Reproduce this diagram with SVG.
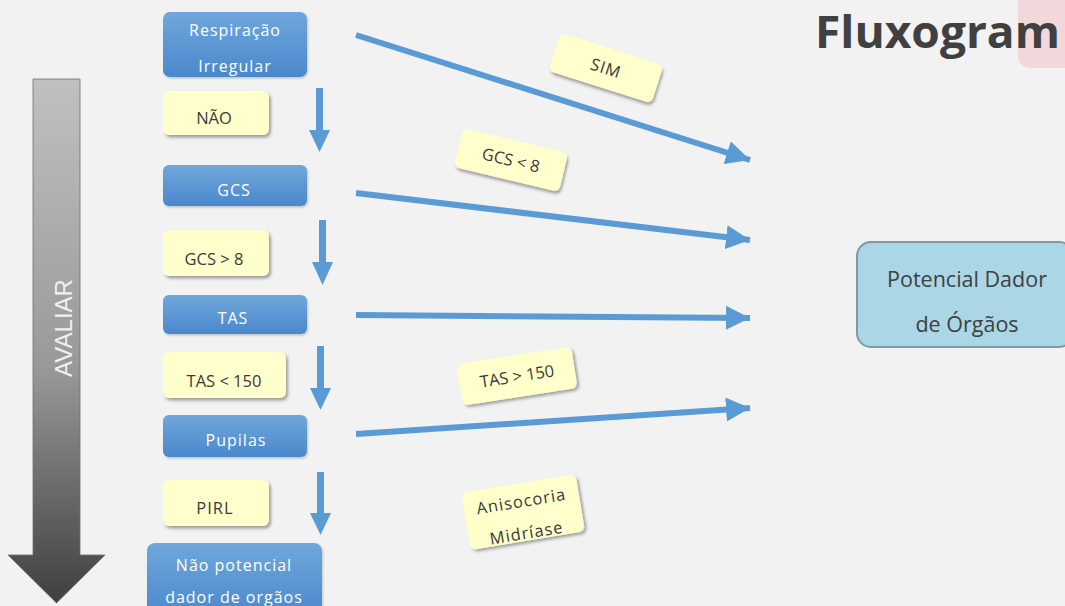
<svg xmlns="http://www.w3.org/2000/svg" width="1065" height="606" viewBox="0 0 1065 606">
  <defs>
    <linearGradient id="gradBlue" x1="0" y1="0" x2="0" y2="1">
      <stop offset="0" stop-color="#70a7dc"/>
      <stop offset="1" stop-color="#4a88cc"/>
    </linearGradient>
    <linearGradient id="gradGray" x1="0" y1="0" x2="0" y2="1">
      <stop offset="0" stop-color="#c0c0c0"/>
      <stop offset="0.55" stop-color="#999999"/>
      <stop offset="1" stop-color="#3f3f3f"/>
    </linearGradient>
    <filter id="shadow" x="-20%" y="-20%" width="150%" height="160%">
      <feDropShadow dx="2" dy="2.5" stdDeviation="1.6" flood-color="#000" flood-opacity="0.35"/>
    </filter>
    <filter id="softShadow" x="-20%" y="-20%" width="150%" height="150%">
      <feDropShadow dx="1" dy="1.5" stdDeviation="1.2" flood-color="#000" flood-opacity="0.2"/>
    </filter>
    <marker id="head" viewBox="0 0 10 10" refX="10" refY="5" markerWidth="4" markerHeight="4" orient="auto" markerUnits="strokeWidth">
      <path d="M0,0 L10,5 L0,10 Z" fill="#5b9bd5"/>
    </marker>
  </defs>
  <style>
    .blue { fill: url(#gradBlue); filter: url(#softShadow); }
    .note { fill: #ffffcc; filter: url(#shadow); }
    .wt { font-family: "Open Sans", "Liberation Sans", sans-serif; font-size: 16px; fill: #ffffff; text-anchor: middle; letter-spacing: 1px; }
    .dk { font-family: "Open Sans", "Liberation Sans", sans-serif; font-size: 16.5px; fill: #3a3a3a; text-anchor: middle; }
    .flow { stroke: #5b9bd5; stroke-width: 6; fill: none; }
    .down { fill: #5b9bd5; }
  </style>

  <rect width="1065" height="606" fill="#f2f2f2"/>

  <!-- title -->
  <g id="title">
    <path d="M1018,0 H1065 V68 H1032 Q1018,68 1018,54 Z" fill="#f2d8da"/>
    <text x="815" y="48" font-family="Open Sans, Liberation Sans, sans-serif" font-weight="bold" font-size="44" fill="#404040" textLength="245" lengthAdjust="spacingAndGlyphs">Fluxogram</text>
  </g>

  <!-- big evaluation arrow -->
  <g id="avaliar">
    <path d="M33,79 H80 V555 H105 L56.5,603 L8,555 H33 Z" fill="url(#gradGray)" stroke="#6f6f6f" stroke-width="0.8"/>
    <text transform="translate(72,328) rotate(-90)" font-family="Liberation Sans, Arial, sans-serif" font-size="24" fill="#f0f0f0" text-anchor="middle">AVALIAR</text>
  </g>

  <!-- connectors -->
  <g id="connectors">
    <line class="flow" x1="356" y1="35" x2="750" y2="160" marker-end="url(#head)"/>
    <line class="flow" x1="356" y1="193" x2="750" y2="240" marker-end="url(#head)"/>
    <line class="flow" x1="356" y1="315" x2="750" y2="318" marker-end="url(#head)"/>
    <line class="flow" x1="356" y1="434" x2="750" y2="408" marker-end="url(#head)"/>
    <path class="down" d="M316,88 H323 V130 H330 L319.5,152 L309,130 H316 Z"/>
    <path class="down" d="M319,220 H326 V262 H333 L322.5,285 L312,262 H319 Z"/>
    <path class="down" d="M317,346 H324 V388 H331 L320.5,410 L310,388 H317 Z"/>
    <path class="down" d="M317,472 H324 V513 H331 L320.5,535 L310,513 H317 Z"/>
  </g>

  <!-- step boxes -->
  <g id="resp">
    <rect class="blue" x="163" y="12" width="144" height="65" rx="7"/>
    <text class="wt" x="235" y="36">Respiração</text>
    <text class="wt" x="235" y="72">Irregular</text>
  </g>
  <g id="nao">
    <rect class="note" x="163" y="91" width="106" height="44" rx="6"/>
    <text class="dk" x="214" y="124">NÃO</text>
  </g>
  <g id="gcs">
    <rect class="blue" x="163" y="165" width="144" height="41" rx="6"/>
    <text class="wt" x="234" y="196">GCS</text>
  </g>
  <g id="gcs-maior">
    <rect class="note" x="163" y="230" width="106" height="46" rx="6"/>
    <text class="dk" x="214" y="265">GCS &gt; 8</text>
  </g>
  <g id="tas">
    <rect class="blue" x="163" y="295" width="144" height="39" rx="6"/>
    <text class="wt" x="233" y="324">TAS</text>
  </g>
  <g id="tas-menor">
    <rect class="note" x="163" y="352" width="123" height="46" rx="6"/>
    <text class="dk" x="224" y="387">TAS &lt; 150</text>
  </g>
  <g id="pupilas">
    <rect class="blue" x="163" y="415" width="144" height="42" rx="6"/>
    <text class="wt" x="236" y="446">Pupilas</text>
  </g>
  <g id="pirl">
    <rect class="note" x="163" y="480" width="106" height="46" rx="6"/>
    <text class="dk" x="215" y="514" letter-spacing="1">PIRL</text>
  </g>
  <g id="nao-potencial">
    <rect class="blue" x="147" y="543" width="175" height="75" rx="8"/>
    <text class="wt" x="234" y="571" font-size="16.5">Não potencial</text>
    <text class="wt" x="234" y="603" font-size="16.5">dador de orgãos</text>
  </g>

  <!-- branch labels -->
  <g id="sim">
    <rect class="note" x="-54" y="-20" width="108" height="40" rx="6" transform="translate(606,68) rotate(17.6)"/>
    <text class="dk" transform="translate(606,68) rotate(17.6)" y="6" letter-spacing="1">SIM</text>
  </g>
  <g id="gcs-menor">
    <rect class="note" x="-54" y="-20" width="108" height="40" rx="6" transform="translate(511,160) rotate(13.4)"/>
    <text class="dk" transform="translate(511,160) rotate(13.4)" y="6">GCS &lt; 8</text>
  </g>
  <g id="tas-maior">
    <rect class="note" x="-58" y="-21" width="116" height="42" rx="6" transform="translate(517,376) rotate(-8.8)"/>
    <text class="dk" transform="translate(517,376) rotate(-8.8)" y="6">TAS &gt; 150</text>
  </g>
  <g id="anisocoria">
    <rect class="note" x="-58" y="-29" width="116" height="58" rx="6" transform="translate(523,512) rotate(-9.4)"/>
    <text class="dk" transform="translate(523,512) rotate(-9.4)" y="-5" letter-spacing="1">Anisocoria</text>
    <text class="dk" transform="translate(523,512) rotate(-9.4)" y="27" letter-spacing="1">Midríase</text>
  </g>

  <!-- outcome -->
  <g id="potencial">
    <rect x="857" y="242" width="216" height="105" rx="14" fill="#aad6e6" stroke="#7d9aaa" stroke-width="2"/>
    <text x="967" y="287" font-family="Open Sans, Liberation Sans, sans-serif" font-size="21.5" fill="#404040" text-anchor="middle">Potencial Dador</text>
    <text x="967" y="332" font-family="Open Sans, Liberation Sans, sans-serif" font-size="21.5" fill="#404040" text-anchor="middle">de Órgãos</text>
  </g>
</svg>
